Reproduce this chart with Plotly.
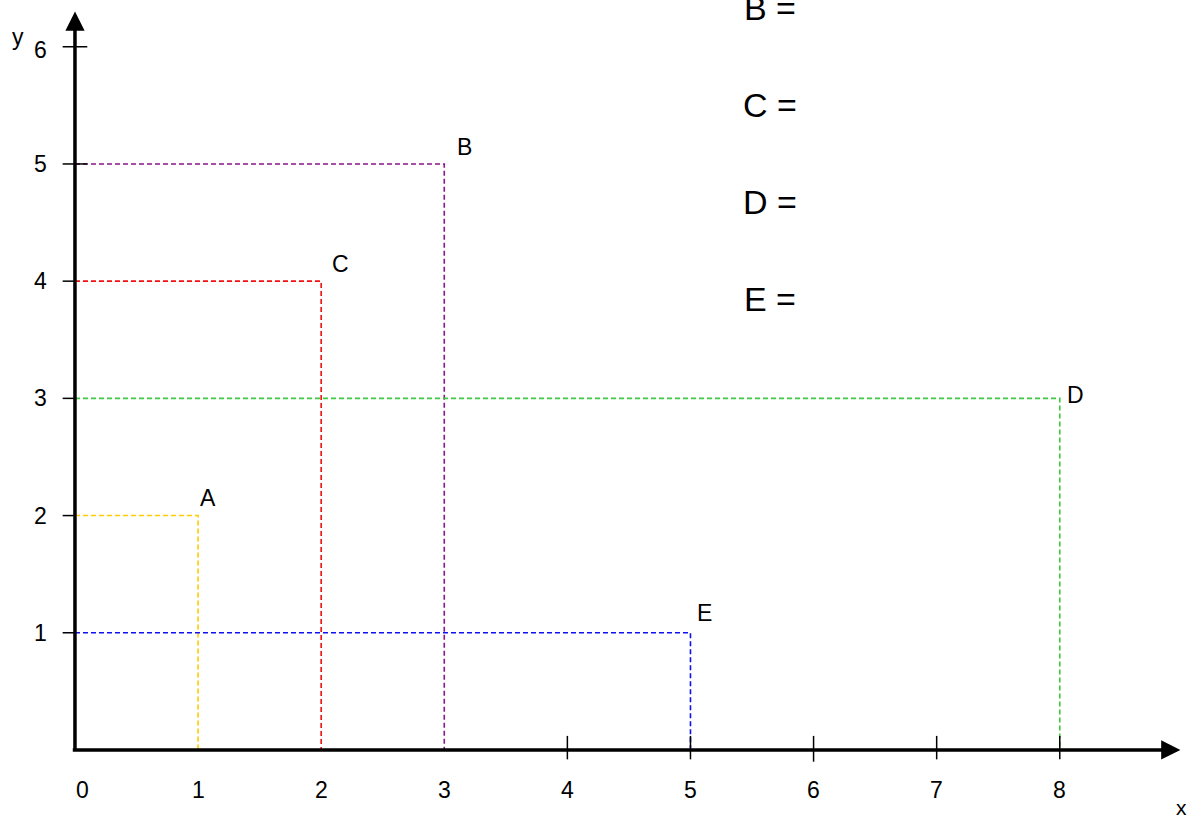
import plotly.graph_objects as go

# points and their coordinates
labels = ["A", "B", "C", "D", "E"]
xs = [1, 3, 2, 8, 5]
ys = [2, 5, 4, 3, 1]
colors = ["#FFCC00", "#8B158B", "#F01010", "#3CC83C", "#1010F0"]

# axis ticks
x_ticks = [0, 1, 2, 3, 4, 5, 6, 7, 8]
y_ticks = [1, 2, 3, 4, 5, 6]

# equation prompts on the right
prompts = ["B =", "C =", "D =", "E ="]

FONT = "Liberation Sans, Arial, sans-serif"

fig = go.Figure()

# dashed guide lines from each axis to the point
for lab, x, y, c in zip(labels, xs, ys, colors):
    fig.add_trace(go.Scatter(
        x=[0, x, x], y=[y, y, 0],
        mode="lines",
        line=dict(color=c, width=1.6, dash="5px,3px"),
        hoverinfo="skip", showlegend=False,
    ))

# point labels (small shift up/right of the corner)
label_shift = {"A": (10, 18), "B": (20, 17), "C": (19, 17), "D": (16, 3), "E": (14, 20)}
for lab, x, y in zip(labels, xs, ys):
    dx, dy = label_shift[lab]
    fig.add_annotation(x=x, y=y, text=lab, showarrow=False,
                       xshift=dx, yshift=dy,
                       font=dict(size=23, color="black", family=FONT))

x_max = 8.98
y_max = 6.3

# axes with arrow heads
fig.add_annotation(x=x_max, y=0, ax=-0.03, ay=0, xref="x", yref="y", axref="x", ayref="y",
                   showarrow=True, arrowhead=2, arrowsize=1.1, arrowwidth=3.5,
                   arrowcolor="black", text="")
fig.add_annotation(x=0, y=y_max, ax=0, ay=-0.02, xref="x", yref="y", axref="x", ayref="y",
                   showarrow=True, arrowhead=2, arrowsize=1.1, arrowwidth=3.5,
                   arrowcolor="black", text="")

# tick marks
for t in x_ticks[4:]:
    fig.add_shape(type="line", x0=t, x1=t, y0=-0.1 if t == 6 else -0.08, y1=0.12,
                  line=dict(color="black", width=1.5))
for t in y_ticks:
    fig.add_shape(type="line", x0=-0.1, x1=0.1 if t in (5, 6) else 0,
                  y0=t, y1=t, line=dict(color="black", width=1.5))

# tick labels
for t in x_ticks:
    fig.add_annotation(x=t, y=0, text=str(t), showarrow=False,
                       xshift=8 if t == 0 else 0, yshift=-40,
                       font=dict(size=23, color="black", family=FONT))
for t in y_ticks:
    fig.add_annotation(x=0, y=t, text=str(t), showarrow=False,
                       xshift=-34, yshift=-3 if t == 6 else 0,
                       font=dict(size=23, color="black", family=FONT))

fig.add_annotation(x=0, y=6, text="y", showarrow=False, xshift=-57, yshift=10,
                   font=dict(size=23, color="black", family=FONT))
fig.add_annotation(x=x_max, y=0, text="x", showarrow=False, xshift=1, yshift=-58,
                   font=dict(size=21, color="black", family=FONT))

# prompts "B =", "C =" ...
for i, p in enumerate(prompts):
    fig.add_annotation(x=0.6465, y=1 - (8 + 97 * i) / 819, xref="paper", yref="paper",
                       text=p, showarrow=False, xanchor="center", yanchor="middle",
                       font=dict(size=34, color="black", family=FONT))

fig.update_layout(
    width=1191, height=819,
    margin=dict(l=0, r=0, t=0, b=0),
    plot_bgcolor="white", paper_bgcolor="white",
    xaxis=dict(range=[-0.609, 9.066], visible=False, fixedrange=True),
    yaxis=dict(range=[-0.589, 6.399], visible=False, fixedrange=True),
    showlegend=False,
)

fig.write_html("out.html", config={"displayModeBar": False},
               post_script="document.body.style.margin='0';")
